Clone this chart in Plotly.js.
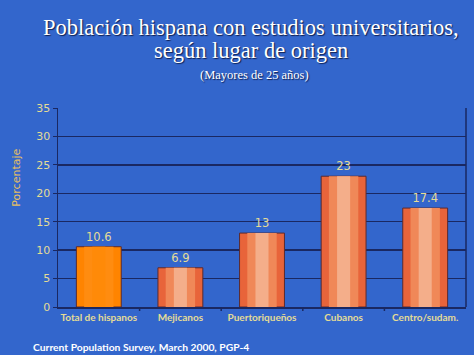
<!DOCTYPE html>
<html><head><meta charset="utf-8">
<script src="https://cdn.plot.ly/plotly-3.0.1.min.js"></script>
<style>html,body{margin:0;padding:0;background:#3366cc;}</style>
</head><body>
<div id="chart" style="width:474px;height:355px;"></div>
<script>
const categories = ["Total de hispanos", "Mejicanos", "Puertoriqueños", "Cubanos", "Centro/sudam."];
const values = [10.6, 6.9, 13, 23, 17.4];
const valueLabels = ["10.6", "6.9", "13", "23", "17.4"];
const yTicks = [0, 5, 10, 15, 20, 25, 30, 35];

const outerColors = ["#ff8400", "#e8643a", "#e8643a", "#e8643a", "#e8643a"];
const midColors = ["#ff8c10", "#f08858", "#f08858", "#f08858", "#f08858"];
const innerColors = ["#ff8a08", "#f4ae8a", "#f4ae8a", "#f4ae8a", "#f4ae8a"];

const txtColor = "#e4dc96";
const gridCol = "#1a2862";
const traces = [
  {type:"bar", x:categories, y:values, width:0.55, marker:{color:outerColors, line:{color:"#5a2a30", width:1}},
   text:valueLabels, textposition:"outside", textfont:{family:"DejaVu Sans", size:11.5, color:txtColor}, cliponaxis:false, hoverinfo:"none"},
  {type:"bar", x:categories, y:values, width:0.36, marker:{color:midColors, line:{width:0}}, hoverinfo:"none"},
  {type:"bar", x:categories, y:values, width:0.16, marker:{color:innerColors, line:{width:0}}, hoverinfo:"none"}
];
const titleFont = {family:"Liberation Serif", size:22.5, color:"#ffffff", shadow:"1px 1px 1px #102050"};
const layout = {
  width:474, height:355,
  paper_bgcolor:"#3366cc", plot_bgcolor:"#3366cc",
  margin:{l:58, r:8, t:108, b:48},
  barmode:"overlay", showlegend:false,
  font:{family:"DejaVu Sans", color:txtColor},
  xaxis:{type:"category", showgrid:false, zeroline:false, showline:true, linecolor:gridCol, linewidth:1.5,
    tickfont:{family:"Lato", size:10, color:txtColor, weight:"bold"}, ticks:"", fixedrange:true},
  yaxis:{range:[0,35], tickvals:yTicks, showgrid:true, gridcolor:gridCol, gridwidth:1.5, zeroline:false,
    showline:true, linecolor:gridCol, linewidth:1.5, ticks:"outside", ticklen:4, tickcolor:gridCol,
    tickfont:{family:"DejaVu Sans", size:11, color:txtColor}},
  shapes:[
    {type:"line", xref:"paper", yref:"paper", x0:1, x1:1, y0:0, y1:1, line:{color:gridCol, width:1.5}},
    {type:"line", xref:"x", yref:"paper", x0:0.5, x1:0.5, y0:0, y1:-0.02, line:{color:gridCol, width:1.5}},
    {type:"line", xref:"x", yref:"paper", x0:1.5, x1:1.5, y0:0, y1:-0.02, line:{color:gridCol, width:1.5}},
    {type:"line", xref:"x", yref:"paper", x0:2.5, x1:2.5, y0:0, y1:-0.02, line:{color:gridCol, width:1.5}},
    {type:"line", xref:"x", yref:"paper", x0:3.5, x1:3.5, y0:0, y1:-0.02, line:{color:gridCol, width:1.5}}
  ],
  annotations:[
    {text:"Población hispana con estudios universitarios,", xref:"paper", yref:"paper", x:0.473, y:1, yshift:81,
     xanchor:"center", yanchor:"middle", showarrow:false, font:titleFont},
    {text:"según lugar de origen", xref:"paper", yref:"paper", x:0.473, y:1, yshift:58,
     xanchor:"center", yanchor:"middle", showarrow:false, font:titleFont},
    {text:"(Mayores de 25 años)", xref:"paper", yref:"paper", x:0.482, y:1, yshift:33, xanchor:"center", yanchor:"middle",
     showarrow:false, font:{family:"Liberation Serif", size:12.5, color:"#ffffff", shadow:"1px 1px 1px #102050"}},
    {text:"Porcentaje", xref:"paper", yref:"paper", x:0, xshift:-41, y:0.65, textangle:-90,
     xanchor:"center", yanchor:"middle", showarrow:false, font:{family:"DejaVu Sans", size:11, color:"#e8c060"}},
    {text:"Current Population Survey, March 2000, PGP-4", xref:"paper", yref:"paper", x:0, y:0, xshift:-27, yshift:-40,
     xanchor:"left", yanchor:"middle", showarrow:false, font:{family:"Lato", size:10.3, color:"#ffffff", weight:"bold"}}
  ]
};
Plotly.newPlot("chart", traces, layout, {displayModeBar:false, staticPlot:true});
</script>
</body></html>
